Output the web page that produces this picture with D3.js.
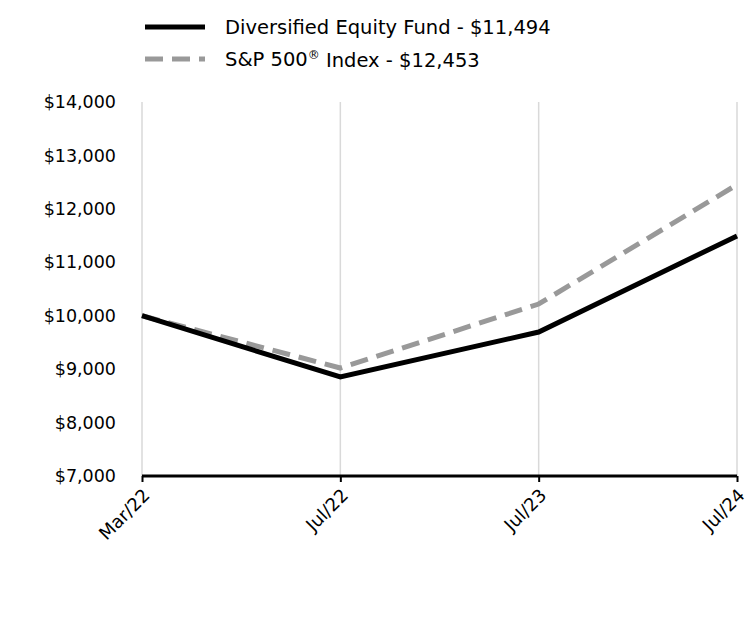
<!DOCTYPE html>
<html><head><meta charset="utf-8">
<script src="https://cdn.jsdelivr.net/npm/d3@7"></script>
<style>body{margin:0;background:#fff}svg{display:block}text{font-family:"DejaVu Sans",sans-serif}</style>
</head><body>
<svg id="c" width="756" height="624"></svg>
<script>
const categories = ["Mar/22","Jul/22","Jul/23","Jul/24"];
const fundValues = [10000, 8853, 9695, 11494];
const spValues = [10000, 9021, 10219, 12453];
const yTicks = [7000, 8000, 9000, 10000, 11000, 12000, 13000, 14000];
const legendNames = [["Diversified Equity Fund - $11,494", "", ""], ["S&P 500", "\u00AE", " Index - $12,453"]];

const svg = d3.select("#c");
const x = d3.scalePoint().domain(categories).range([142, 737]);
const y = d3.scaleLinear().domain([7000, 14000]).range([476, 102]);

// vertical gridlines
svg.append("g").selectAll("line").data(categories).join("line")
  .attr("x1", d => x(d)).attr("x2", d => x(d)).attr("y1", 102).attr("y2", 476)
  .attr("stroke", "#d9d9d9").attr("stroke-width", 1.5);

// y axis labels
const yAxis = d3.axisLeft(y).tickValues(yTicks).tickSize(0).tickPadding(0)
  .tickFormat(d => "$" + d3.format(",")(d));
const gy = svg.append("g").attr("transform", "translate(116,0)").call(yAxis);
gy.select(".domain").remove();
gy.selectAll("text").attr("font-size", 17.5).attr("fill", "#000")
  .attr("font-family", '"DejaVu Sans",sans-serif');

// x axis
const xAxis = d3.axisBottom(x).tickSize(6).tickPadding(0);
const gx = svg.append("g").attr("transform", "translate(0,476)").call(xAxis);
gx.select(".domain").attr("stroke", "#000").attr("stroke-width", 3).attr("d", "M142,0H737");
gx.selectAll(".tick line").attr("stroke", "#000").attr("stroke-width", 2);
gx.selectAll("text").attr("font-size", 18).attr("fill", "#000")
  .attr("font-family", '"DejaVu Sans",sans-serif')
  .attr("text-anchor", "end").attr("x", 0).attr("y", 0).attr("dy", "0.35em")
  .attr("transform", "translate(4,16) rotate(-45)");

const line = d3.line().x((d, i) => x(categories[i])).y(d => y(d));
svg.append("path").datum(spValues).attr("d", line).attr("fill", "none")
  .attr("stroke", "#999999").attr("stroke-width", 5).attr("stroke-dasharray", "18,9");
svg.append("path").datum(fundValues).attr("d", line).attr("fill", "none")
  .attr("stroke", "#000").attr("stroke-width", 5);

// legend
const leg = svg.append("g");
const styles = [{c:"#000", d:null}, {c:"#999999", d:"18,9"}];
legendNames.forEach((n, i) => {
  const yy = 27 + i * 32;
  leg.append("line").attr("x1", 145).attr("x2", 205).attr("y1", yy).attr("y2", yy)
    .attr("stroke", styles[i].c).attr("stroke-width", 5).attr("stroke-dasharray", styles[i].d);
  const t = leg.append("text").attr("x", 225).attr("y", yy).attr("dy", "0.35em")
    .attr("font-size", 19.5).attr("fill", "#000");
  t.append("tspan").text(n[0]);
  if (n[1]) {
    t.append("tspan").attr("font-size", 12).attr("dy", "-0.6em").text(n[1]);
    t.append("tspan").attr("dy", "0.42em").text(n[2]);
  }
});
</script>
</body></html>
